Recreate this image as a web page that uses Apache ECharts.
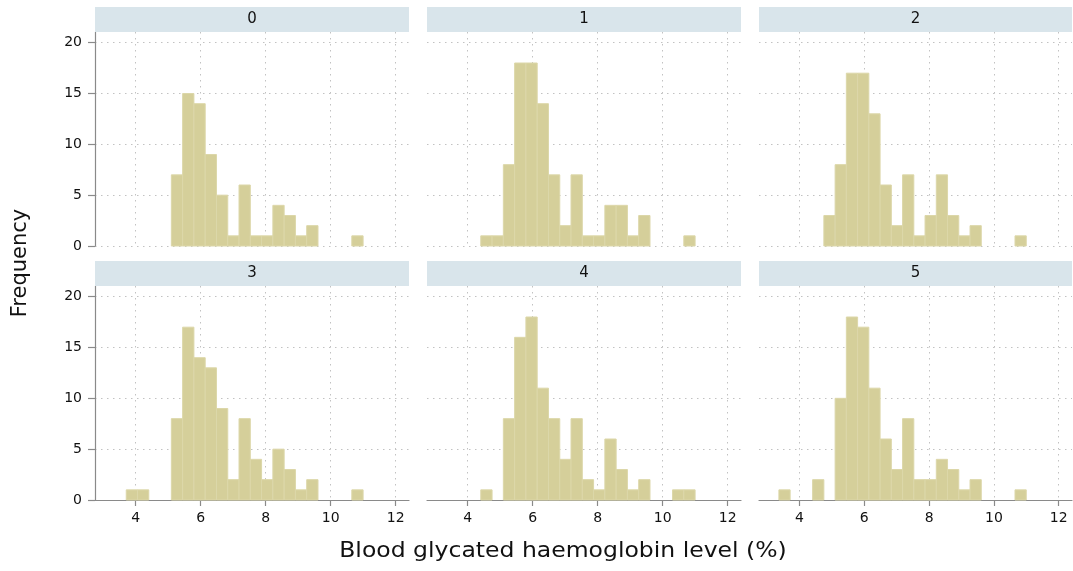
<!DOCTYPE html>
<html>
<head>
<meta charset="utf-8">
<script src="https://cdn.jsdelivr.net/npm/echarts@6/dist/echarts.min.js"></script>
<style>
html,body{margin:0;padding:0;background:#fff;}
#chart{width:1073px;height:571px;}
</style>
</head>
<body>
<div id="chart"></div>
<script>
// ---- data ----
const panelLabels = ['0', '1', '2', '3', '4', '5'];
const binStart = 3.364;   // left edge of first histogram bin
const binWidth = 0.347;   // histogram bin width
const counts0 = [0,0,0,0,0,7,15,14,9,5,1,6,1,1,4,3,1,2,0,0,0,1];
const counts1 = [0,0,0,1,1,8,18,18,14,7,2,7,1,1,4,4,1,3,0,0,0,1];
const counts2 = [0,0,0,0,3,8,17,17,13,6,2,7,1,3,7,3,1,2,0,0,0,1];
const counts3 = [0,1,1,0,0,8,17,14,13,9,2,8,4,2,5,3,1,2,0,0,0,1];
const counts4 = [0,0,0,1,0,8,16,18,11,8,4,8,2,1,6,3,1,2,0,0,1,1];
const counts5 = [1,0,0,2,0,10,18,17,11,6,3,8,2,2,4,3,1,2,0,0,0,1];
const xTicks = [4, 6, 8, 10, 12];
const yTicks = [0, 5, 10, 15, 20];
const xTitle = 'Blood glycated haemoglobin level (%)';
const yTitle = 'Frequency';

const allCounts = [counts0, counts1, counts2, counts3, counts4, counts5];

// ---- layout ----
const FONT = 'DejaVu Sans, Liberation Sans, Arial, sans-serif';
const lefts = [95, 427, 759];
const widths = [314, 314, 313];
const tops = [32, 286];
const plotH = 214;
const stripH = 25;
const barFill = '#d5cf9a';
const barStroke = '#dcd7a9';
const stripFill = '#d9e5eb';
const gridColor = '#c2c2c2';
const axisColor = '#8a8a8a';

const grids = [], xAxes = [], yAxes = [], series = [], graphics = [];

for (let i = 0; i < 6; i++) {
  const row = Math.floor(i / 3), col = i % 3;
  const left = lefts[col], top = tops[row], width = widths[col];
  grids.push({left: left, top: top, width: width, height: plotH});
  const isBottom = row === 1, isLeft = col === 0;
  xAxes.push({
    type: 'value', gridIndex: i, min: 2.75, max: 12.41,
    axisLine: {show: isBottom, onZero: false, lineStyle: {color: axisColor, width: 1.2}},
    axisTick: {show: isBottom, length: 6, customValues: xTicks, lineStyle: {color: axisColor, width: 1.2}},
    axisLabel: {show: isBottom, customValues: xTicks, margin: 11, fontSize: 14, color: '#111', fontFamily: FONT},
    splitLine: {show: true, lineStyle: {color: gridColor, width: 1, type: [1.5, 4.5]}}
  });
  yAxes.push({
    type: 'value', gridIndex: i, min: 0, max: 21.05,
    axisLine: {show: isLeft, lineStyle: {color: axisColor, width: 1.2}},
    axisTick: {show: isLeft, length: 7, customValues: yTicks, lineStyle: {color: axisColor, width: 1.2}},
    axisLabel: {show: isLeft, customValues: yTicks, margin: 13, fontSize: 14, color: '#111', fontFamily: FONT},
    splitLine: {show: true, lineStyle: {color: gridColor, width: 1, type: [1.5, 4.5]}}
  });
  const data = [];
  allCounts[i].forEach((c, k) => {
    if (c > 0) data.push([binStart + k * binWidth, binStart + (k + 1) * binWidth, c]);
  });
  series.push({
    type: 'custom', xAxisIndex: i, yAxisIndex: i, data: data, z: 3,
    renderItem: function (params, api) {
      const p0 = api.coord([api.value(0), api.value(2)]);
      const p1 = api.coord([api.value(1), 0]);
      return {
        type: 'rect',
        shape: {x: p0[0], y: p0[1], width: p1[0] - p0[0], height: p1[1] - p0[1]},
        style: {fill: barFill, stroke: barStroke, lineWidth: 1}
      };
    }
  });
  graphics.push({
    type: 'rect', left: left, top: top - stripH, z: 10,
    shape: {width: width, height: stripH},
    style: {fill: stripFill}
  });
  graphics.push({
    type: 'text', z: 11,
    x: left + width / 2, y: top - stripH / 2,
    style: {text: panelLabels[i], fontSize: 15, fontFamily: FONT, fill: '#111',
            textAlign: 'center', textVerticalAlign: 'middle'}
  });
}

graphics.push({
  type: 'text', x: 563, y: 552, z: 11, scaleX: 1.12,
  style: {text: xTitle, fontSize: 21, fontFamily: FONT, fill: '#111',
          textAlign: 'center', textVerticalAlign: 'middle'}
});
graphics.push({
  type: 'text', x: 21, y: 263, rotation: Math.PI / 2, z: 11,
  style: {text: yTitle, fontSize: 21, fontFamily: FONT, fill: '#111',
          textAlign: 'center', textVerticalAlign: 'middle'}
});

const chart = echarts.init(document.getElementById('chart'), null, {renderer: 'canvas'});
chart.setOption({
  backgroundColor: '#ffffff',
  animation: false,
  grid: grids,
  xAxis: xAxes,
  yAxis: yAxes,
  series: series,
  graphic: graphics
});
</script>
</body>
</html>
